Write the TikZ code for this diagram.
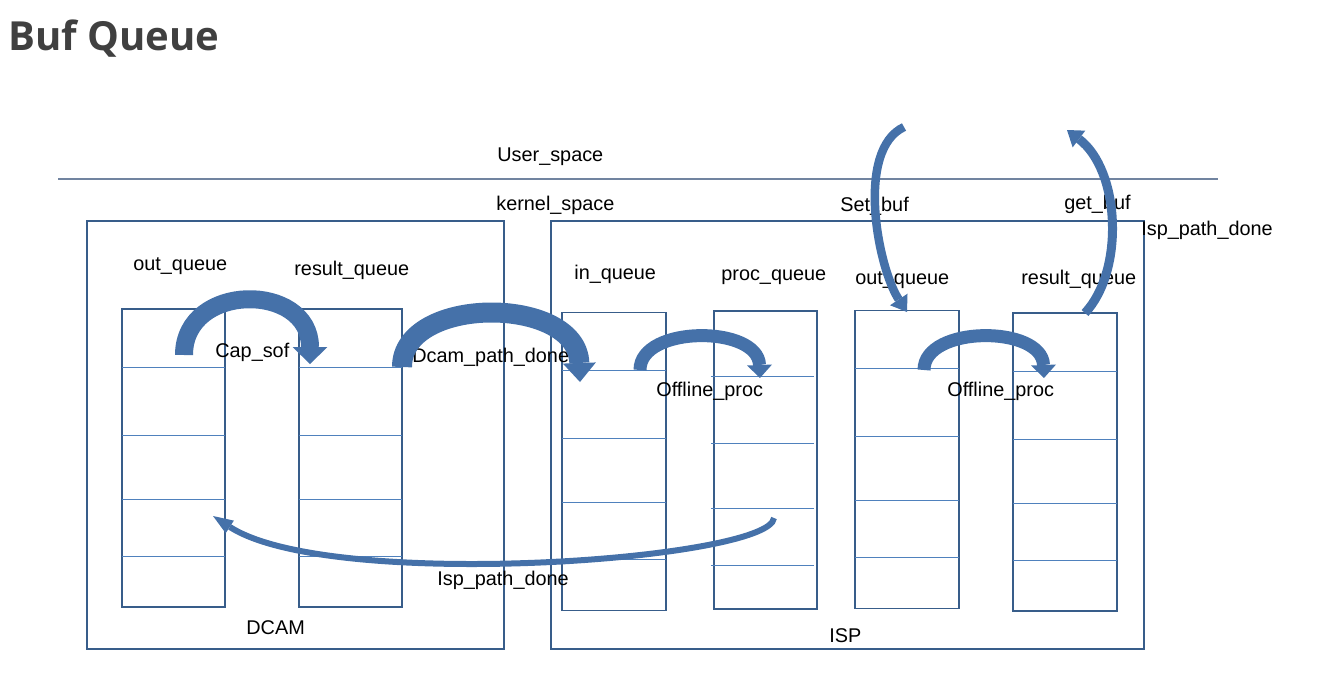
\documentclass[tikz,border=0pt]{standalone}
\usepackage{fontspec}
\setmainfont{Liberation Sans}
\newfontfamily\titlefont{Open Sans}
\usetikzlibrary{arrows.meta, calc}
\usepackage{xcolor}
\definecolor{boxblue}{HTML}{385D8A}
\definecolor{sepblue}{HTML}{4F81BD}
\definecolor{arrowblue}{HTML}{4571A9}
\definecolor{spaceline}{HTML}{7184A0}
\definecolor{titlegray}{HTML}{404040}

\begin{document}
\begin{tikzpicture}[x=0.02cm, y=-0.02cm,
    panel/.style={draw=boxblue, line width=1.1pt, rectangle, outer sep=0pt, minimum height=8.56cm},
    queue/.style={draw=boxblue, line width=1.1pt, rectangle, outer sep=0pt, minimum width=2.07cm, minimum height=5.96cm},
    lbl/.style={anchor=west, inner sep=0pt, font=\fontsize{11.3}{13}\selectfont},
    sepline/.style={draw=sepblue, line width=0.6pt},
    curved/.style n args={3}{draw=arrowblue, line width=#1, -{Triangle[width=#2, length=#3, line width=0pt]}}]
    \useasboundingbox (0,0) rectangle (1320,683);

    % Title
    \node[anchor=base west, inner sep=0pt, text=titlegray, font=\titlefont\bfseries\fontsize{22.8}{27}\selectfont] (title) at (8,50) {Buf Queue};

    % User space / kernel space
    \node[lbl] (user) at (497,157) {User\_space};
    \node[lbl] (kernel) at (496,205) {kernel\_space};
    \coordinate (lineL) at (58,179);
    \coordinate (lineR) at (1218,179);
    \draw[spaceline, line width=0.6pt] (lineL) -- (lineR);

    % Box for DCAM
    \node[panel, minimum width=8.34cm] (dcam) at (295.5,435) {};
    \node[lbl] (dcamlbl) at (246,628) {DCAM};

    % Box for ISP
    \node[panel, minimum width=11.86cm] (isp) at (847.5,435) {};
    \node[lbl] (isplbl) at (829,636) {ISP};

    % Queues of DCAM
    \node[queue] (dout) at (173.5,458) {};
    \node[lbl] (doutlbl) at (133,266) {out\_queue};
    \node[queue] (dres) at (350.5,458) {};
    \node[lbl] (dreslbl) at (294,270) {result\_queue};

    % Queues of ISP
    \node[queue] (iin) at (614,461.5) {};
    \node[lbl] (iinlbl) at (574,274) {in\_queue};
    \node[queue] (iproc) at (765.5,460) {};
    \node[lbl] (iproclbl) at (721,277) {proc\_queue};
    \node[queue] (iout) at (907,459.5) {};
    \node[lbl] (ioutlbl) at (855,280) {out\_queue};
    \node[queue] (ires) at (1065,462) {};
    \node[lbl] (ireslbl) at (1021,279) {result\_queue};

    % Buffer slots
    \foreach \q in {dout,dres,iin,iout,ires}
        \foreach \d in {58,126,190,247}
            \draw[sepline] ($(\q.north west)+(0,\d)$) -- ($(\q.north east)+(0,\d)$);
    \foreach \d in {65,132,197,254}
        \draw[sepline] ($(iproc.north west)+(-3,\d)$) -- ($(iproc.north east)+(-3,\d)$);

    % Arrow labels
    \node[lbl] (capsof) at (215,352) {Cap\_sof};
    \node[lbl] (dcamdone) at (412,357) {Dcam\_path\_done};
    \node[lbl] (offline1) at (656,391) {Offline\_proc};
    \node[lbl] (offline2) at (947,391) {Offline\_proc};
    \node[lbl] (ispdone) at (437,580) {Isp\_path\_done};
    \node[lbl] (setbuf) at (840,206) {Set\_buf};
    \node[lbl] (getbuf) at (1064,204) {get\_buf};
    \node[lbl] (ispdonetop) at (1141,230) {Isp\_path\_done};

    % Arrows
    \coordinate (capS) at (184,355);
    \coordinate (capE) at (310,364);
    \draw[curved={0.36cm}{0.7cm}{0.34cm}] (capS) .. controls +(0,-73) and +(0,-82) .. (capE);
    \coordinate (dcamS) at (402,367);
    \coordinate (dcamE) at (580,382);
    \draw[curved={0.4cm}{0.66cm}{0.38cm}] (dcamS) .. controls +(0,-72) and +(-3,-87) .. (dcamE);
    \coordinate (off1S) at (640,370);
    \coordinate (off1E) at (760,378);
    \draw[curved={0.26cm}{0.5cm}{0.26cm}] (off1S) .. controls +(0,-45) and +(-2,-53) .. (off1E);
    \coordinate (off2S) at (924,370);
    \coordinate (off2E) at (1044,378);
    \draw[curved={0.26cm}{0.5cm}{0.26cm}] (off2S) .. controls +(0,-45) and +(-2,-53) .. (off2E);
    \coordinate (setS) at (904,127);
    \coordinate (setE) at (907,312);
    \draw[curved={0.17cm}{0.42cm}{0.3cm}] (setS) .. controls +(-49,23) and +(-29,-44) .. (setE);
    \coordinate (getS) at (1085,313);
    \coordinate (getE) at (1067,130);
    \draw[curved={0.18cm}{0.42cm}{0.3cm}] (getS) .. controls +(40,-43) and +(53,40) .. (getE);
    \coordinate (ispS) at (774,518);
    \coordinate (ispE) at (213,516);
    \draw[curved={0.12cm}{0.3cm}{0.4cm}] (ispS) .. controls +(-4,42) and +(117,76) .. (ispE);
\end{tikzpicture}
\end{document}
